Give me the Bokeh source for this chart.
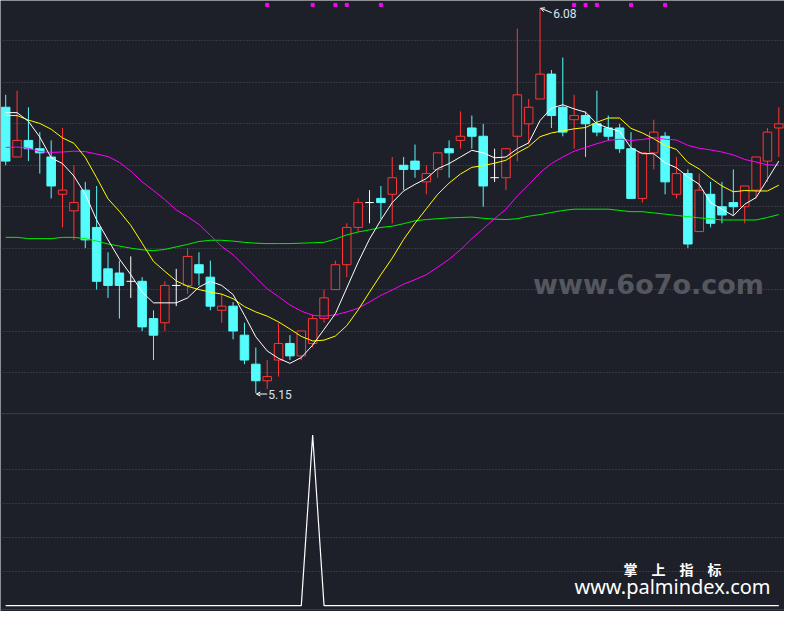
import numpy as np
from bokeh.plotting import figure
from bokeh.models import Range1d, FixedTicker, Grid, Span, Label, Arrow, OpenHead
from bokeh.embed import file_html
from bokeh.resources import INLINE
from bokeh.core.properties import value

# ---------------- data ----------------
opens = [5.84, 5.72, 5.76, 5.74, 5.72, 5.63, 5.59, 5.64, 5.55, 5.45,
         5.44, 5.42, 5.42, 5.33, 5.32, 5.41, 5.41, 5.46, 5.43, 5.35,
         5.36, 5.29, 5.22, 5.18, 5.23, 5.27, 5.24, 5.27, 5.33, 5.40,
         5.46, 5.55, 5.61, 5.62, 5.63, 5.70, 5.71, 5.66, 5.69, 5.74,
         5.76, 5.79, 5.77, 5.67, 5.67, 5.77, 5.80, 5.86, 5.92, 5.84,
         5.81, 5.82, 5.80, 5.79, 5.79, 5.74, 5.62, 5.73, 5.77, 5.63,
         5.68, 5.54, 5.63, 5.60, 5.61, 5.60, 5.64, 5.71, 5.79]
highs = [5.87, 5.88, 5.84, 5.78, 5.76, 5.79, 5.70, 5.66, 5.65, 5.49,
         5.47, 5.48, 5.43, 5.35, 5.42, 5.45, 5.50, 5.49, 5.47, 5.39,
         5.37, 5.32, 5.26, 5.23, 5.32, 5.29, 5.30, 5.34, 5.40, 5.47,
         5.56, 5.62, 5.64, 5.65, 5.72, 5.72, 5.75, 5.70, 5.73, 5.76,
         5.83, 5.82, 5.80, 5.74, 5.74, 6.03, 5.86, 6.08, 5.93, 5.96,
         5.87, 5.83, 5.88, 5.82, 5.80, 5.78, 5.73, 5.81, 5.78, 5.72,
         5.69, 5.68, 5.66, 5.66, 5.69, 5.65, 5.72, 5.79, 5.84]
lows = [5.70, 5.72, 5.71, 5.68, 5.62, 5.55, 5.52, 5.50, 5.40, 5.38,
        5.33, 5.38, 5.30, 5.23, 5.30, 5.36, 5.39, 5.41, 5.35, 5.32,
        5.28, 5.22, 5.15, 5.16, 5.19, 5.23, 5.23, 5.26, 5.32, 5.40,
        5.43, 5.54, 5.56, 5.57, 5.56, 5.64, 5.67, 5.63, 5.67, 5.67,
        5.74, 5.74, 5.60, 5.66, 5.64, 5.71, 5.75, 5.86, 5.79, 5.77,
        5.74, 5.72, 5.77, 5.76, 5.73, 5.62, 5.61, 5.69, 5.63, 5.62,
        5.50, 5.54, 5.55, 5.56, 5.58, 5.56, 5.62, 5.66, 5.72]
closes = [5.71, 5.76, 5.74, 5.73, 5.65, 5.64, 5.61, 5.52, 5.42, 5.41,
          5.41, 5.42, 5.31, 5.29, 5.41, 5.41, 5.48, 5.44, 5.36, 5.36,
          5.30, 5.23, 5.18, 5.19, 5.27, 5.24, 5.30, 5.33, 5.38, 5.46,
          5.55, 5.61, 5.61, 5.61, 5.67, 5.69, 5.69, 5.68, 5.73, 5.73,
          5.77, 5.77, 5.65, 5.67, 5.74, 5.87, 5.84, 5.92, 5.82, 5.78,
          5.82, 5.80, 5.78, 5.77, 5.74, 5.62, 5.73, 5.78, 5.66, 5.68,
          5.51, 5.64, 5.56, 5.58, 5.60, 5.65, 5.72, 5.78, 5.80]

ma5 = [5.827, 5.827, 5.806, 5.768, 5.718, 5.704, 5.674, 5.630, 5.568, 5.520,
       5.474, 5.436, 5.394, 5.368, 5.368, 5.368, 5.380, 5.406, 5.420, 5.410,
       5.388, 5.338, 5.286, 5.252, 5.234, 5.222, 5.236, 5.266, 5.304, 5.342,
       5.404, 5.466, 5.522, 5.568, 5.610, 5.638, 5.654, 5.668, 5.692, 5.704,
       5.720, 5.736, 5.730, 5.718, 5.720, 5.740, 5.754, 5.808, 5.838, 5.846,
       5.836, 5.828, 5.800, 5.790, 5.782, 5.742, 5.728, 5.728, 5.706, 5.694,
       5.672, 5.654, 5.610, 5.594, 5.578, 5.606, 5.622, 5.666, 5.710]
ma10 = [5.820, 5.820, 5.809, 5.801, 5.787, 5.766, 5.753, 5.719, 5.670,
        5.619, 5.589, 5.555, 5.512, 5.468, 5.444, 5.421, 5.408, 5.400, 5.394,
        5.389, 5.378, 5.359, 5.346, 5.336, 5.322, 5.305, 5.287, 5.276, 5.278,
        5.288, 5.313, 5.351, 5.394, 5.436, 5.476, 5.521, 5.560, 5.595, 5.630,
        5.657, 5.679, 5.695, 5.699, 5.705, 5.712, 5.730, 5.745, 5.769, 5.778,
        5.783, 5.788, 5.791, 5.804, 5.814, 5.814, 5.789, 5.778, 5.764, 5.748,
        5.738, 5.707, 5.691, 5.669, 5.650, 5.636, 5.639, 5.638, 5.638, 5.652]
ma20 = [5.743, 5.744, 5.741, 5.733, 5.731, 5.732, 5.734, 5.733, 5.727, 5.721,
        5.707, 5.686, 5.660, 5.639, 5.617, 5.592, 5.576, 5.557, 5.531,
        5.504, 5.484, 5.457, 5.429, 5.402, 5.383, 5.363, 5.348, 5.338, 5.336,
        5.339, 5.346, 5.355, 5.370, 5.386, 5.399, 5.413, 5.424, 5.436, 5.454,
        5.473, 5.496, 5.523, 5.547, 5.571, 5.594, 5.626, 5.653, 5.682, 5.704,
        5.720, 5.734, 5.743, 5.752, 5.760, 5.763, 5.760, 5.762, 5.767, 5.763,
        5.761, 5.748, 5.741, 5.737, 5.732, 5.725, 5.714, 5.708, 5.701, 5.700]
ma60 = [5.526, 5.526, 5.523, 5.523, 5.523, 5.526, 5.526, 5.523, 5.517, 5.510,
        5.505, 5.500, 5.496, 5.494, 5.497, 5.503, 5.509, 5.516, 5.519, 5.519,
        5.517, 5.514, 5.512, 5.511, 5.511, 5.511, 5.512, 5.513, 5.514, 5.522,
        5.532, 5.539, 5.544, 5.550, 5.553, 5.559, 5.566, 5.569, 5.571, 5.573,
        5.574, 5.575, 5.572, 5.570, 5.569, 5.571, 5.577, 5.581, 5.586, 5.591,
        5.594, 5.594, 5.594, 5.594, 5.591, 5.588, 5.588, 5.585, 5.582, 5.579,
        5.576, 5.573, 5.571, 5.568, 5.568, 5.568, 5.568, 5.574, 5.581]

signal_idx = [23, 27, 29, 30, 33, 50, 51, 52, 55, 58]
signal_price = [6.087, 6.087, 6.087, 6.087, 6.087, 6.087, 6.087, 6.087, 6.087, 6.087]

indicator = [0, 0, 0, 0, 0, 0, 0, 0, 0, 0,
             0, 0, 0, 0, 0, 0, 0, 0, 0, 0,
             0, 0, 0, 0, 0, 0, 0, 100, 0, 0,
             0, 0, 0, 0, 0, 0, 0, 0, 0, 0,
             0, 0, 0, 0, 0, 0, 0, 0, 0, 0,
             0, 0, 0, 0, 0, 0, 0, 0, 0, 0,
             0, 0, 0, 0, 0, 0, 0, 0, 0]

price_ticks = [5.2, 5.3, 5.4, 5.5, 5.6, 5.7, 5.8, 5.9, 6.0]
ind_ticks = [20, 40, 60, 80]

# ---------------- styles ----------------
BG = "#1e2029"
RED = "#ff3434"
CYAN = "#54fcfc"
GRID = "#4c505a"
SEP = "#3a404c"
W = 784
H = 611

idx = np.arange(len(closes))
o = np.array(opens); h = np.array(highs); l = np.array(lows); c = np.array(closes)
up = c > o
dn = c < o
dj = c == o
bw = 0.75

# one figure: price panel on top (default y range), indicator panel below (extra y range)
p = figure(width=W, height=H, x_range=Range1d(-0.457, 68.5),
           y_range=Range1d(4.6232, 6.0976),
           output_backend="svg", toolbar_location=None,
           x_axis_location=None, y_axis_location=None,
           background_fill_color=BG, border_fill_color=BG,
           outline_line_color=None, min_border=0)
p.extra_y_ranges = {"ind": Range1d(-3.43, 354.86)}
for r in list(p.center):
    if isinstance(r, Grid):
        r.visible = False
p.add_layout(Grid(dimension=1, ticker=FixedTicker(ticks=price_ticks),
                  grid_line_color=GRID, grid_line_dash="1 2", grid_line_width=1))
p.add_layout(Grid(dimension=1, ticker=FixedTicker(ticks=ind_ticks), y_range_name="ind",
                  grid_line_color=GRID, grid_line_dash="1 2", grid_line_width=1))

# panel separator and bottom line
p.add_layout(Span(location=112.57, dimension="width", y_range_name="ind",
                  line_color=SEP, line_width=1))
p.add_layout(Span(location=-2.3, dimension="width", y_range_name="ind",
                  line_color=SEP, line_width=1))

# down candles (filled cyan)
p.segment(idx[dn], h[dn], idx[dn], l[dn], color=CYAN, line_width=1)
p.vbar(x=idx[dn], width=bw, top=o[dn], bottom=c[dn], fill_color=CYAN, line_color=CYAN, line_width=1)
# up candles (hollow red)
p.segment(idx[up], h[up], idx[up], c[up], color=RED, line_width=1)
p.segment(idx[up], o[up], idx[up], l[up], color=RED, line_width=1)
p.vbar(x=idx[up], width=bw, top=c[up], bottom=o[up], fill_color=BG, line_color=RED, line_width=1)
# doji (white cross)
p.segment(idx[dj], h[dj], idx[dj], l[dj], color="white", line_width=1)
p.segment(idx[dj] - bw / 2, c[dj], idx[dj] + bw / 2, c[dj], color="white", line_width=1)

# moving averages
p.line(idx, ma60, color="#00ee00", line_width=1)
p.line(idx, ma20, color="#ff00ff", line_width=1)
p.line(idx, ma10, color="#ffff00", line_width=1)
p.line(idx, ma5, color="#ffffff", line_width=1)

# signal markers at top
p.scatter(signal_idx, signal_price, marker="square", size=3, color="#ff00ff")

# high / low annotations
hi_i = int(np.argmax(h)); lo_i = int(np.argmin(l))
TXT = "#d8e4f0"
p.add_layout(Arrow(end=OpenHead(size=4, line_color="white", line_width=1),
                   x_start=hi_i + 1.03, y_start=h[hi_i] - 0.012,
                   x_end=hi_i + 0.05, y_end=h[hi_i] - 0.001,
                   line_color="white", line_width=1))
p.text([hi_i + 1.15], [h[hi_i] - 0.013], text=["%.2f" % h[hi_i]],
       text_font=value("Roboto"), text_font_size="12px", text_color=TXT,
       text_baseline="middle", text_align="left")
p.add_layout(Arrow(end=OpenHead(size=4, line_color="white", line_width=1),
                   x_start=lo_i + 1.0, y_start=l[lo_i] - 0.002,
                   x_end=lo_i + 0.05, y_end=l[lo_i] - 0.002,
                   line_color="white", line_width=1))
p.text([lo_i + 1.1], [l[lo_i] - 0.004], text=["%.2f" % l[lo_i]],
       text_font=value("Roboto"), text_font_size="12px", text_color=TXT,
       text_baseline="middle", text_align="left")

# indicator line (lower panel)
p.line(idx, indicator, y_range_name="ind", color="white", line_width=1.2)

# watermarks
p.add_layout(Label(x=648, y=327, x_units="screen", y_units="screen",
                   text="www.6o7o.com", text_align="center", text_baseline="middle",
                   text_font="DejaVu Sans", text_font_style="bold",
                   text_font_size="27px", text_color="#55575f"))
p.add_layout(Label(x=672, y=43, x_units="screen", y_units="screen",
                   text="掌\u2003上\u2003指\u2003标", text_align="center", text_baseline="middle",
                   text_font="Noto Sans CJK SC", text_font_style="bold",
                   text_font_size="14px", text_color="white"))
p.add_layout(Label(x=672, y=25, x_units="screen", y_units="screen",
                   text="www.palmindex.com", text_align="center", text_baseline="middle",
                   text_font="Noto Sans", text_font_size="20px", text_color="white"))

open("out.html", "w").write(file_html(p, INLINE))
